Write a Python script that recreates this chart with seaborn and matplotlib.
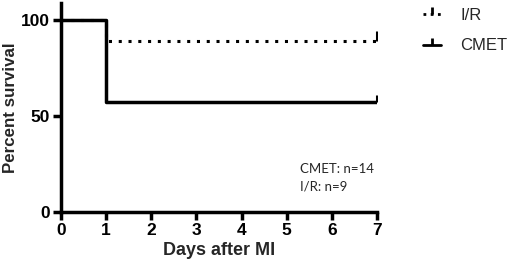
import matplotlib
matplotlib.use("Agg")
import matplotlib.pyplot as plt
import seaborn as sns
import pandas as pd
from matplotlib.lines import Line2D

days = [0, 1, 7]
cmet_survival = [100, 57.14, 57.14]
ir_survival = [100, 88.89, 88.89]
series_names = ["I/R", "CMET"]
annot_lines = ["CMET: n=14", "I/R: n=9"]

sns.set_style("white")
plt.rcParams['font.family'] = ['Liberation Sans', 'DejaVu Sans']

fig = plt.figure(figsize=(5.11, 2.66), dpi=100)
ax = fig.add_axes([0.119, 0.203, 0.619, 0.786])

df_ir = pd.DataFrame({"day": days, "surv": ir_survival})
df_cm = pd.DataFrame({"day": days, "surv": cmet_survival})
sns.lineplot(data=df_ir, x="day", y="surv", ax=ax, drawstyle="steps-post",
             color="black", linestyle=(0, (1, 2.2)), linewidth=2.2, estimator=None)
sns.lineplot(data=df_cm, x="day", y="surv", ax=ax, drawstyle="steps-post",
             color="black", linestyle="-", linewidth=2.5, estimator=None)
# censor ticks at the last day
ax.plot([days[-1]], [ir_survival[-1]], marker=2, color="black", markersize=7, mew=2.2)
ax.plot([days[-1]], [cmet_survival[-1]], marker=2, color="black", markersize=5, mew=2.2)

ax.set_xlim(0, 7)
ax.set_ylim(0, 109)
ax.set_xticks(range(0, 8))
ax.set_yticks([0, 50, 100])
for s in ["top", "right"]:
    ax.spines[s].set_visible(False)
for s in ["left", "bottom"]:
    ax.spines[s].set_linewidth(2.5)
    ax.spines[s].set_color("black")
ax.tick_params(axis="both", direction="out", length=6, width=2.5, colors="black",
               labelsize=12.5, pad=2)
ax.tick_params(axis="both", left=True, bottom=True)
for lab in ax.get_xticklabels() + ax.get_yticklabels():
    lab.set_fontweight("bold")
ax.set_xlabel("Days after MI", fontsize=13, fontweight="bold", labelpad=3)
ax.set_ylabel("Percent survival", fontsize=12.2, fontweight="bold", labelpad=2)

ax.text(0.756, 0.187, annot_lines[0], transform=ax.transAxes, fontsize=9.5,
        family=['Lato', 'DejaVu Sans'])
ax.text(0.756, 0.105, annot_lines[1], transform=ax.transAxes, fontsize=9.5,
        family=['Lato', 'DejaVu Sans'])

handles = [Line2D([0], [0], color="black", linestyle=(0, (1, 1.6)), linewidth=2, marker=2,
                  markersize=5, mew=2),
           Line2D([0], [0], color="black", linestyle="-", linewidth=2, marker=2,
                  markersize=5, mew=2)]
leg = fig.legend(handles, series_names, loc="upper left", bbox_to_anchor=(0.798, 1.028),
                 frameon=False, fontsize=12, handlelength=1.1, handletextpad=1.15,
                 labelspacing=0.95, numpoints=1)

fig.savefig("out.png", dpi=100)
